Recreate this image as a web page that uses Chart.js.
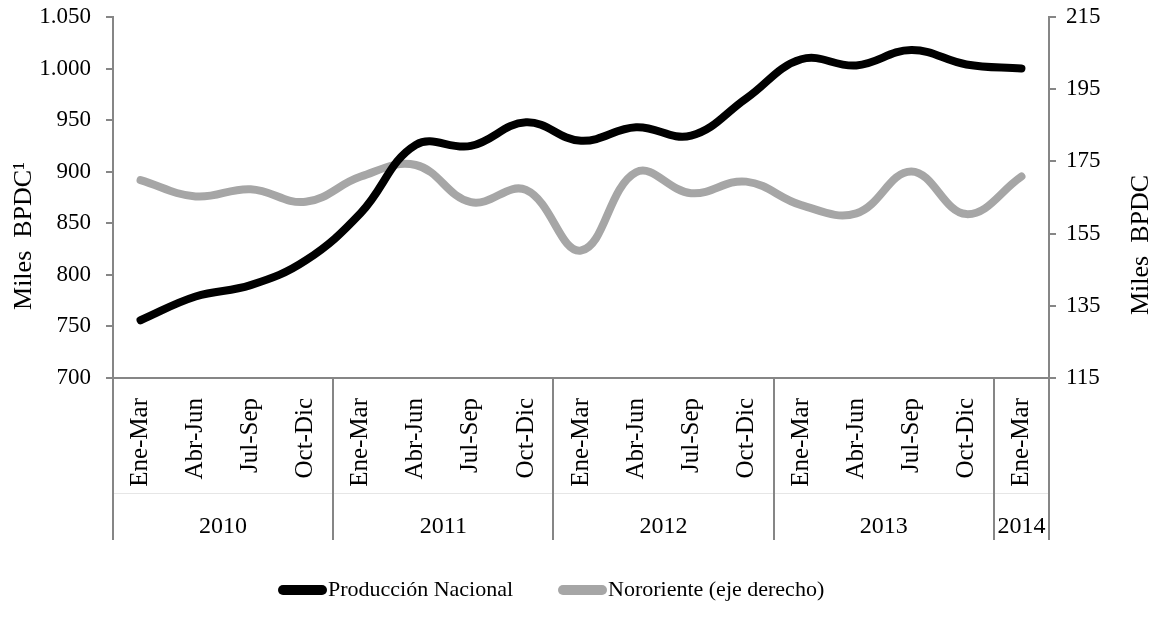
<!DOCTYPE html>
<html>
<head>
<meta charset="utf-8">
<script src="https://cdn.jsdelivr.net/npm/chart.js@4"></script>
<style>
  body { margin: 0; background: #fff; }
  #wrap { width: 1160px; height: 628px; }
</style>
</head>
<body>
<div id="wrap"><canvas id="prodChart"></canvas></div>
<script>
const quarters = ["Ene-Mar", "Abr-Jun", "Jul-Sep", "Oct-Dic",
  "Ene-Mar", "Abr-Jun", "Jul-Sep", "Oct-Dic",
  "Ene-Mar", "Abr-Jun", "Jul-Sep", "Oct-Dic",
  "Ene-Mar", "Abr-Jun", "Jul-Sep", "Oct-Dic",
  "Ene-Mar"];
const years = ["2010", "2011", "2012", "2013", "2014"];
const quartersPerYear = [4, 4, 4, 4, 1];

const produccionNacional = [756, 779, 790, 814, 860, 926, 925, 948, 930, 943, 935, 971, 1009, 1003, 1018, 1004, 1000];
const nororiente = [169.8, 165.3, 167.3, 163.8, 170.8, 174.0, 163.7, 167.1, 150.3, 172.0, 166.2, 169.4, 162.9, 160.6, 172.2, 160.4, 170.8];

const leftTicks = [700, 750, 800, 850, 900, 950, 1000, 1050];
const rightTicks = [115, 135, 155, 175, 195, 215];

const serif = "'Liberation Serif', 'Times New Roman', serif";
const axisGray = "#868686";

Chart.defaults.font.family = serif;
Chart.defaults.color = "#000";

function fmtThousands(v) {
  return String(v).replace(/\B(?=(\d{3})+(?!\d))/g, ".");
}

// year row, separators, axis titles and legend drawn around the plot
const extrasPlugin = {
  id: "extras",
  afterDraw(chart) {
    const ctx = chart.ctx;
    const x = chart.scales.x;
    const area = chart.chartArea;
    const band = x.getPixelForValue(1) - x.getPixelForValue(0);
    const rowBottom = x.top + 162;
    ctx.save();
    // faint line between quarter row and year row
    ctx.strokeStyle = "#e6e6e6";
    ctx.lineWidth = 1;
    ctx.beginPath();
    ctx.moveTo(area.left, x.top + 115.5);
    ctx.lineTo(area.right, x.top + 115.5);
    ctx.stroke();

    ctx.strokeStyle = axisGray;
    ctx.lineWidth = 2;
    ctx.fillStyle = "#000";
    ctx.font = "24px " + serif;
    ctx.textAlign = "center";
    ctx.textBaseline = "middle";
    let idx = 0;
    const edges = [0];
    years.forEach((yr, i) => {
      const start = x.getPixelForValue(idx) - band / 2;
      idx += quartersPerYear[i];
      const end = x.getPixelForValue(idx - 1) + band / 2;
      edges.push(idx);
      ctx.fillText(yr, (start + end) / 2, x.top + 149);
    });
    edges.forEach((e) => {
      const px = Math.round(x.getPixelForValue(0) - band / 2 + e * band);
      ctx.beginPath();
      ctx.moveTo(px, x.top);
      ctx.lineTo(px, rowBottom);
      ctx.stroke();
    });

    // axis titles, both reading bottom to top
    ctx.font = "26px " + serif;
    ctx.save();
    ctx.translate(24, 236);
    ctx.rotate(-Math.PI / 2);
    ctx.fillText("Miles  BPDC\u00b9", 0, 0);
    ctx.restore();
    ctx.save();
    ctx.translate(1141, 245);
    ctx.rotate(-Math.PI / 2);
    ctx.fillText("Miles  BPDC", 0, 0);
    ctx.restore();

    // legend
    const legendX = [278, 558];
    const legendY = 590;
    ctx.font = "22px " + serif;
    ctx.textAlign = "left";
    ctx.lineCap = "round";
    chart.data.datasets.forEach((ds, i) => {
      ctx.strokeStyle = ds.borderColor;
      ctx.lineWidth = 10;
      ctx.beginPath();
      ctx.moveTo(legendX[i] + 5, legendY);
      ctx.lineTo(legendX[i] + 44, legendY);
      ctx.stroke();
      ctx.fillText(ds.label, legendX[i] + 50, legendY);
    });
    ctx.restore();
  },
};

function fixYFit(width) {
  return (scale) => {
    scale.width = width;
    scale.paddingTop = 0;
    scale.paddingBottom = 0;
  };
}

new Chart(document.getElementById("prodChart"), {
  type: "line",
  data: {
    labels: quarters,
    datasets: [
      {
        label: "Producción Nacional",
        data: produccionNacional,
        yAxisID: "y",
        borderColor: "#000",
        backgroundColor: "#000",
        borderWidth: 8,
        borderCapStyle: "round",
        pointRadius: 0,
        tension: 0.4,
      },
      {
        label: "Nororiente (eje derecho)",
        data: nororiente,
        yAxisID: "y1",
        borderColor: "#a6a6a6",
        backgroundColor: "#a6a6a6",
        borderWidth: 8,
        borderCapStyle: "round",
        pointRadius: 0,
        tension: 0.4,
      },
    ],
  },
  options: {
    responsive: true,
    maintainAspectRatio: false,
    animation: false,
    layout: { padding: { top: 17, bottom: 59 } },
    plugins: {
      tooltip: { enabled: false },
      legend: { display: false },
    },
    scales: {
      x: {
        offset: true,
        grid: { display: false },
        border: { color: axisGray, width: 2 },
        ticks: {
          minRotation: 90,
          maxRotation: 90,
          autoSkip: false,
          padding: 12,
          font: { size: 25, family: serif },
          color: "#000",
        },
        afterFit(scale) { scale.height = 191; },
      },
      y: {
        position: "left",
        min: 700,
        max: 1050,
        afterBuildTicks(scale) { scale.ticks = leftTicks.map((v) => ({ value: v })); },
        grid: { drawOnChartArea: false, color: axisGray, tickLength: 7, lineWidth: 2 },
        border: { color: axisGray, width: 2 },
        ticks: {
          padding: 15,
          font: { size: 23, family: serif },
          color: "#000",
          callback: (v) => fmtThousands(v),
        },
        afterFit: fixYFit(113),
      },
      y1: {
        position: "right",
        min: 115,
        max: 215,
        afterBuildTicks(scale) { scale.ticks = rightTicks.map((v) => ({ value: v })); },
        grid: { drawOnChartArea: false, color: axisGray, tickLength: 7, lineWidth: 2 },
        border: { color: axisGray, width: 2 },
        ticks: {
          padding: 10,
          font: { size: 23, family: serif },
          color: "#000",
        },
        afterFit: fixYFit(111),
      },
    },
  },
  plugins: [extrasPlugin],
});
</script>
</body>
</html>
